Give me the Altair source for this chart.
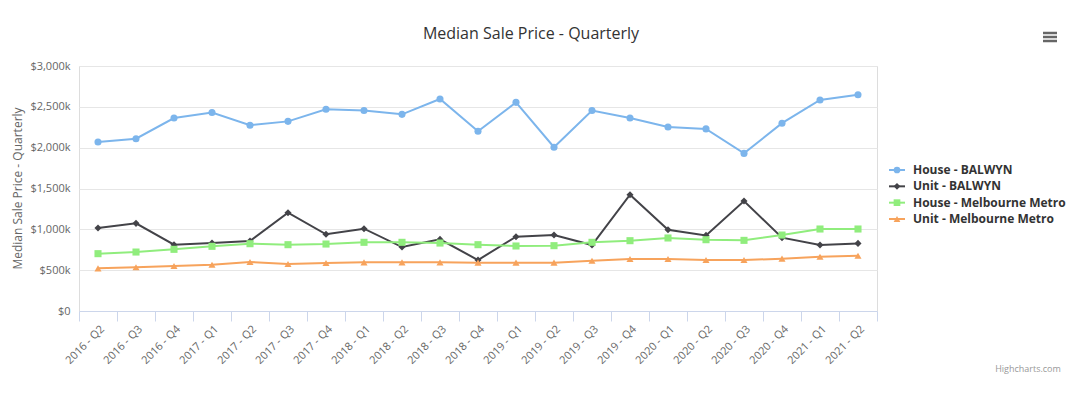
import altair as alt
import pandas as pd

quarters = ["2016 - Q2", "2016 - Q3", "2016 - Q4", "2017 - Q1", "2017 - Q2", "2017 - Q3",
            "2017 - Q4", "2018 - Q1", "2018 - Q2", "2018 - Q3", "2018 - Q4", "2019 - Q1",
            "2019 - Q2", "2019 - Q3", "2019 - Q4", "2020 - Q1", "2020 - Q2", "2020 - Q3",
            "2020 - Q4", "2021 - Q1", "2021 - Q2"]

series_names = ["House - BALWYN", "Unit - BALWYN", "House - Melbourne Metro", "Unit - Melbourne Metro"]
series_colors = ["#7cb5ec", "#434348", "#90ed7d", "#f7a35c"]
series_shapes = ["circle", "diamond", "square", "triangle-up"]

house_balwyn = [2070000, 2110000, 2363000, 2430000, 2275000, 2322000, 2470000, 2455000, 2408000,
                2596000, 2200000, 2555000, 2005000, 2455000, 2363000, 2253000, 2230000, 1930000,
                2300000, 2584000, 2648000]
unit_balwyn = [1016000, 1073000, 812000, 832000, 857000, 1204000, 939000, 1008000, 783000,
               877000, 624000, 910000, 930000, 808000, 1424000, 995000, 926000, 1347000,
               898000, 808000, 828000]
house_metro = [702000, 722000, 755000, 792000, 824000, 812000, 820000, 841000, 841000,
               832000, 812000, 796000, 800000, 841000, 861000, 894000, 873000, 865000,
               930000, 1004000, 1004000]
unit_metro = [522000, 535000, 551000, 567000, 600000, 575000, 588000, 596000, 596000,
              596000, 592000, 592000, 592000, 616000, 637000, 637000, 624000, 624000,
              641000, 665000, 677000]

all_values = [house_balwyn, unit_balwyn, house_metro, unit_metro]
rows = []
for name, vals in zip(series_names, all_values):
    for q, v in zip(quarters, vals):
        rows.append({"quarter": q, "series": name, "price": v})
df = pd.DataFrame(rows)
legend_df = pd.DataFrame({"series": series_names})

FONT = "Open Sans"

x_enc = alt.X("quarter:N", sort=quarters,
              scale=alt.Scale(type="band", paddingInner=0, paddingOuter=0),
              axis=alt.Axis(title=None, labelAngle=-45, labelColor="#666666", labelFontSize=11,
                            labelFont=FONT, domainColor="#ccd6eb", tickColor="#ccd6eb",
                            tickSize=10, tickBand="extent", grid=False, labelPadding=2))
y_enc = alt.Y("price:Q",
              scale=alt.Scale(domain=[0, 3000000], nice=False),
              axis=alt.Axis(title="Median Sale Price - Quarterly",
                            values=[0, 500000, 1000000, 1500000, 2000000, 2500000, 3000000],
                            labelExpr="datum.value == 0 ? '$0' : '$' + format(datum.value/1000, ',') + 'k'",
                            labelColor="#666666", labelFontSize=11, labelFont=FONT,
                            titleColor="#666666", titleFontSize=12, titleFont=FONT,
                            titleFontWeight="normal", titleX=-62, titleY=122, titleAngle=-90,
                            titleAlign="center", titleBaseline="middle",
                            domain=False, ticks=False, labelPadding=9,
                            gridColor="#e6e6e6", gridWidth=1))
color_scale = alt.Scale(domain=series_names, range=series_colors)
shape_scale = alt.Scale(domain=series_names, range=series_shapes)
color_enc = alt.Color("series:N", scale=color_scale, legend=None)
shape_enc = alt.Shape("series:N", scale=shape_scale, legend=None)

base = alt.Chart(df)
lines = base.mark_line(strokeWidth=2).encode(x=x_enc, y=y_enc, color=color_enc, detail="series:N")
points = base.mark_point(filled=True, size=50, opacity=1).encode(
    x=x_enc, y=y_enc, color=color_enc, shape=shape_enc)

# custom legend (Highcharts style: line segment + marker + bold label)
leg_y = alt.Y("series:N", sort=series_names,
              scale=alt.Scale(type="point", domain=series_names, range=[104, 153], padding=0),
              axis=None)
leg_base = alt.Chart(legend_df)
leg_line = leg_base.mark_rule(strokeWidth=2).encode(
    x=alt.value(810), x2=alt.value(826), y=leg_y, color=color_enc)
leg_pt = leg_base.mark_point(filled=True, size=45, opacity=1).encode(
    x=alt.value(818), y=leg_y, color=color_enc, shape=shape_enc)
leg_txt = leg_base.mark_text(font=FONT, fontSize=12, fontWeight="bold", color="#333333",
                             align="left", baseline="middle").encode(
    x=alt.value(834), y=leg_y, text="series:N")
legend = alt.layer(leg_line, leg_pt, leg_txt)

one = alt.Data(values=[{}])
title = alt.Chart(one).mark_text(font=FONT, fontSize=16, color="#333333", align="center",
                                 baseline="middle").encode(
    x=alt.value(452), y=alt.value(-32), text=alt.value("Median Sale Price - Quarterly"))
credit = alt.Chart(one).mark_text(font=FONT, fontSize=9, color="#999999", align="center",
                                  baseline="middle").encode(
    x=alt.value(949), y=alt.value(58 + 245), text=alt.value("Highcharts.com"))
menu = [alt.Chart(one).mark_rule(color="#666666", strokeWidth=2.5).encode(
    x=alt.value(964), x2=alt.value(978), y=alt.value(yy)) for yy in (-33, -29, -25)]

main = alt.layer(lines, points)
chart = alt.layer(main, legend, title, credit, *menu).resolve_scale(y="independent").properties(
    width=798, height=245,
    autosize=alt.AutoSizeParams(type="none"),
    padding={"left": 71, "top": 58, "right": 195, "bottom": 74},
).configure_view(stroke=None).configure(background="white")

chart.save("out.html", embed_options={"renderer": "svg", "actions": False})
